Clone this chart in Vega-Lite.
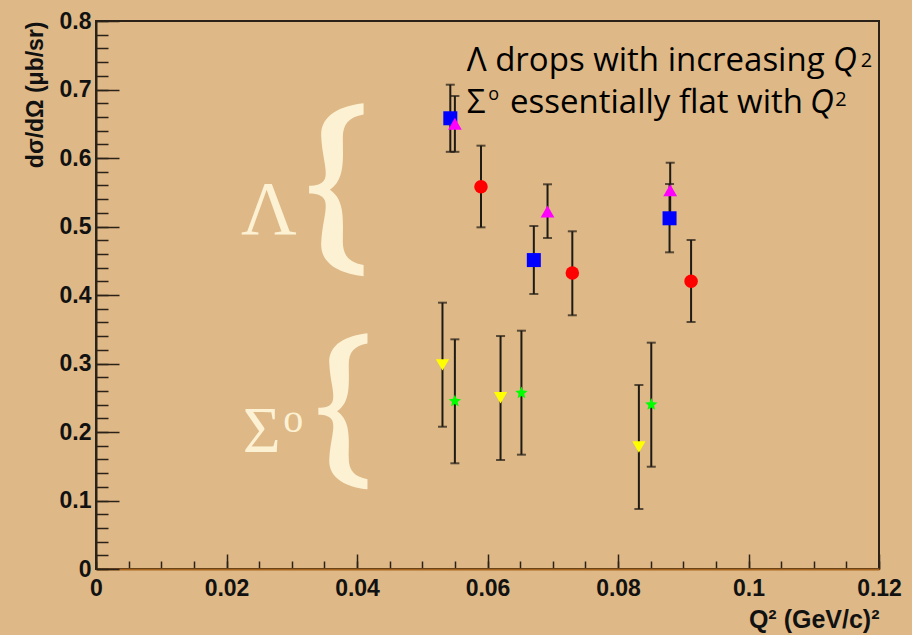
{
  "$schema": "https://vega.github.io/schema/vega-lite/v6.json",
  "width": 783,
  "height": 548,
  "autosize": "none",
  "padding": {"left": 96, "top": 21, "right": 33, "bottom": 66},
  "background": "#DEB887",
  "config": {"view": {"stroke": "#2a2218", "strokeWidth": 2}},
  "datasets": {
    "pts": [
      {"series": "blue", "x": 0.0543, "y": 0.658, "lo": 0.609, "hi": 0.707},
      {"series": "blue", "x": 0.0671, "y": 0.451, "lo": 0.4015, "hi": 0.5007},
      {"series": "blue", "x": 0.0879, "y": 0.512, "lo": 0.4623, "hi": 0.562},
      {"series": "magenta", "x": 0.0550, "y": 0.650, "lo": 0.609, "hi": 0.6905},
      {"series": "magenta", "x": 0.0692, "y": 0.522, "lo": 0.4832, "hi": 0.5616},
      {"series": "magenta", "x": 0.0880, "y": 0.553, "lo": 0.5134, "hi": 0.5931},
      {"series": "red", "x": 0.0590, "y": 0.558, "lo": 0.4988, "hi": 0.618},
      {"series": "red", "x": 0.0730, "y": 0.432, "lo": 0.3704, "hi": 0.493},
      {"series": "red", "x": 0.0912, "y": 0.420, "lo": 0.3606, "hi": 0.4803},
      {"series": "yellow", "x": 0.0531, "y": 0.298, "lo": 0.2077, "hi": 0.3888},
      {"series": "yellow", "x": 0.0620, "y": 0.250, "lo": 0.1591, "hi": 0.3401},
      {"series": "yellow", "x": 0.0832, "y": 0.178, "lo": 0.0876, "hi": 0.2686},
      {"series": "green", "x": 0.0550, "y": 0.245, "lo": 0.1543, "hi": 0.3353},
      {"series": "green", "x": 0.0652, "y": 0.257, "lo": 0.1669, "hi": 0.3479},
      {"series": "green", "x": 0.0851, "y": 0.240, "lo": 0.1493, "hi": 0.3304}
    ]
  },
  "resolve": {"axis": {"x": "independent", "y": "independent"}},
  "layer": [
    {
      "data": {"name": "pts"},
      "mark": {"type": "rule", "color": "#1e1a14", "strokeWidth": 2},
      "encoding": {
        "x": {"field": "x", "type": "quantitative",
          "scale": {"domain": [0, 0.12], "nice": false, "zero": false},
          "axis": {"orient": "bottom", "values": [0,0.005,0.01,0.015,0.02,0.025,0.03,0.035,0.04,0.045,0.05,0.055,0.06,0.065,0.07,0.075,0.08,0.085,0.09,0.095,0.1,0.105,0.11,0.115,0.12],
            "tickSize": -8, "tickWidth": 1.5, "tickColor": "#2a2218", "labels": false, "domain": false, "grid": false, "title": null}},
        "y": {"field": "lo", "type": "quantitative",
          "scale": {"domain": [0, 0.8], "nice": false, "zero": false},
          "axis": {"orient": "left", "values": [0,0.02,0.04,0.06,0.08,0.1,0.12,0.14,0.16,0.18,0.2,0.22,0.24,0.26,0.28,0.3,0.32,0.34,0.36,0.38,0.4,0.42,0.44,0.46,0.48,0.5,0.52,0.54,0.56,0.58,0.6,0.62,0.64,0.66,0.68,0.7,0.72,0.74,0.76,0.78,0.8],
            "tickSize": -12, "tickWidth": 1.5, "tickColor": "#2a2218", "labels": false, "domain": false, "grid": false, "title": null}},
        "y2": {"field": "hi"}
      }
    },
    {
      "data": {"name": "pts"},
      "mark": {"type": "tick", "orient": "horizontal", "color": "#1e1a14", "size": 9, "thickness": 2},
      "encoding": {
        "x": {"field": "x", "type": "quantitative", "axis": null},
        "y": {"field": "lo", "type": "quantitative", "axis": null}
      }
    },
    {
      "data": {"name": "pts"},
      "mark": {"type": "tick", "orient": "horizontal", "color": "#1e1a14", "size": 9, "thickness": 2},
      "encoding": {
        "x": {"field": "x", "type": "quantitative", "axis": null},
        "y": {"field": "hi", "type": "quantitative", "axis": null}
      }
    },
    {
      "data": {"name": "pts"},
      "mark": {"type": "point", "filled": true, "opacity": 1, "strokeWidth": 0},
      "encoding": {
        "x": {"field": "x", "type": "quantitative",
          "axis": {"orient": "bottom", "values": [0,0.02,0.04,0.06,0.08,0.1,0.12], "format": ".2~f",
            "tickSize": -15, "tickWidth": 1.5, "tickColor": "#2a2218", "labelPadding": 23,
            "labelFont": "Liberation Sans", "labelFontWeight": "bold", "labelFontSize": 23, "labelColor": "#111111",
            "labelOverlap": false, "labelBound": false, "labelFlush": false,
            "domainColor": "#A8641C", "domainWidth": 2, "grid": false,
            "title": "Q² (GeV/c)²", "titleFont": "Liberation Sans", "titleFontWeight": "bold", "titleFontSize": 25,
            "titleColor": "#111111", "titleAnchor": "end", "titlePadding": 7}},
        "y": {"field": "y", "type": "quantitative",
          "axis": {"orient": "left", "values": [0,0.1,0.2,0.3,0.4,0.5,0.6,0.7,0.8], "format": ".1~f",
            "tickSize": -23, "tickWidth": 1.5, "tickColor": "#2a2218", "labelPadding": 28,
            "labelFont": "Liberation Sans", "labelFontWeight": "bold", "labelFontSize": 23, "labelColor": "#111111",
            "labelOverlap": false, "labelBound": false, "labelFlush": false,
            "domainColor": "#2a2218", "domainWidth": 2, "grid": false,
            "title": "dσ/dΩ     (μb/sr)", "titleFont": "Liberation Sans", "titleFontWeight": "bold", "titleFontSize": 23,
            "titleColor": "#111111", "titleAnchor": "end", "titlePadding": 12}},
        "color": {"field": "series", "type": "nominal", "legend": null,
          "scale": {"domain": ["blue", "magenta", "red", "yellow", "green"], "range": ["#0000FF", "#FF00FF", "#FF0000", "#FFFF00", "#00FF00"]}},
        "shape": {"field": "series", "type": "nominal", "legend": null,
          "scale": {"domain": ["blue", "magenta", "red", "yellow", "green"], "range": ["square", "triangle-up", "circle", "triangle-down", "M0,-1L0.2645,-0.364L0.951,-0.309L0.428,0.139L0.588,0.809L0,0.45L-0.588,0.809L-0.428,0.139L-0.951,-0.309L-0.2645,-0.364Z"]}},
        "size": {"field": "series", "type": "nominal", "legend": null,
          "scale": {"domain": ["blue", "magenta", "red", "yellow", "green"], "range": [196, 169, 177, 205, 151]}}
      }
    },
    {
      "data": {"values": [
        {"t": "Λ drops with increasing", "x": 0.05681, "y": 0.7274},
        {"t": "Σ", "x": 0.05681, "y": 0.6653},
        {"t": "essentially flat with", "x": 0.06345, "y": 0.6653}
      ]},
      "mark": {"type": "text", "font": "Open Sans", "fontSize": 33, "color": "#000000", "align": "left", "baseline": "alphabetic"},
      "encoding": {
        "x": {"field": "x", "type": "quantitative", "axis": null},
        "y": {"field": "y", "type": "quantitative", "axis": null},
        "text": {"field": "t"}
      }
    },
    {
      "data": {"values": [
        {"t": "Q", "x": 0.11295, "y": 0.7274},
        {"t": "Q", "x": 0.10943, "y": 0.6653}
      ]},
      "mark": {"type": "text", "font": "Open Sans", "fontSize": 33, "fontStyle": "italic", "color": "#000000", "align": "left", "baseline": "alphabetic"},
      "encoding": {
        "x": {"field": "x", "type": "quantitative", "axis": null},
        "y": {"field": "y", "type": "quantitative", "axis": null},
        "text": {"field": "t"}
      }
    },
    {
      "data": {"values": [
        {"t": "2", "x": 0.1172, "y": 0.7333},
        {"t": "2", "x": 0.1133, "y": 0.6759}
      ]},
      "mark": {"type": "text", "font": "Open Sans", "fontSize": 20, "color": "#000000", "align": "left", "baseline": "alphabetic"},
      "encoding": {
        "x": {"field": "x", "type": "quantitative", "axis": null},
        "y": {"field": "y", "type": "quantitative", "axis": null},
        "text": {"field": "t"}
      }
    },
    {
      "data": {"values": [
        {"t": "o", "x": 0.0601, "y": 0.6847}
      ]},
      "mark": {"type": "text", "font": "Open Sans", "fontSize": 18, "color": "#000000", "align": "left", "baseline": "alphabetic"},
      "encoding": {
        "x": {"field": "x", "type": "quantitative", "axis": null},
        "y": {"field": "y", "type": "quantitative", "axis": null},
        "text": {"field": "t"}
      }
    },
    {
      "data": {"values": [
        {"t": "Λ", "x": 0.0265, "y": 0.489}
      ]},
      "mark": {"type": "text", "font": "Liberation Serif", "fontSize": 77, "color": "#FCF1D3", "align": "center", "baseline": "alphabetic"},
      "encoding": {
        "x": {"field": "x", "type": "quantitative", "axis": null},
        "y": {"field": "y", "type": "quantitative", "axis": null},
        "text": {"field": "t"}
      }
    },
    {
      "data": {"values": [
        {"t": "Σ", "x": 0.0254, "y": 0.1712}
      ]},
      "mark": {"type": "text", "font": "Liberation Serif", "fontSize": 65, "color": "#FCF1D3", "align": "center", "baseline": "alphabetic"},
      "encoding": {
        "x": {"field": "x", "type": "quantitative", "axis": null},
        "y": {"field": "y", "type": "quantitative", "axis": null},
        "text": {"field": "t"}
      }
    },
    {
      "data": {"values": [
        {"t": "o", "x": 0.0287, "y": 0.2004}
      ]},
      "mark": {"type": "text", "font": "Liberation Serif", "fontSize": 40, "color": "#FCF1D3", "align": "left", "baseline": "alphabetic"},
      "encoding": {
        "x": {"field": "x", "type": "quantitative", "axis": null},
        "y": {"field": "y", "type": "quantitative", "axis": null},
        "text": {"field": "t"}
      }
    },
    {
      "data": {"values": [
        {"brace": "Lambda", "x": 0.0369, "y": 0.5537}
      ]},
      "mark": {"type": "point", "filled": true, "opacity": 1, "color": "#FCF1D3", "strokeWidth": 0, "size": 29929,
        "shape": "M0.31,-1C0.04,-0.97,-0.19,-0.86,-0.18,-0.62C-0.17,-0.38,-0.1,-0.22,-0.14,-0.12C-0.17,-0.06,-0.24,-0.045,-0.32,-0.045L-0.32,0.045C-0.24,0.045,-0.17,0.06,-0.14,0.12C-0.1,0.22,-0.17,0.38,-0.18,0.62C-0.19,0.86,0.04,0.97,0.31,1L0.31,0.87C0.14,0.84,0.07,0.76,0.07,0.6C0.07,0.36,0.1,0.12,-0.08,0C0.1,-0.12,0.07,-0.36,0.07,-0.6C0.07,-0.76,0.14,-0.84,0.31,-0.87Z"},
      "encoding": {
        "x": {"field": "x", "type": "quantitative", "axis": null},
        "y": {"field": "y", "type": "quantitative", "axis": null}
      }
    },
    {
      "data": {"values": [
        {"brace": "Sigma", "x": 0.0379, "y": 0.2302}
      ]},
      "mark": {"type": "point", "filled": true, "opacity": 1, "color": "#FCF1D3", "strokeWidth": 0, "size": 24336,
        "shape": "M0.31,-1C0.04,-0.97,-0.19,-0.86,-0.18,-0.62C-0.17,-0.38,-0.1,-0.22,-0.14,-0.12C-0.17,-0.06,-0.24,-0.045,-0.32,-0.045L-0.32,0.045C-0.24,0.045,-0.17,0.06,-0.14,0.12C-0.1,0.22,-0.17,0.38,-0.18,0.62C-0.19,0.86,0.04,0.97,0.31,1L0.31,0.87C0.14,0.84,0.07,0.76,0.07,0.6C0.07,0.36,0.1,0.12,-0.08,0C0.1,-0.12,0.07,-0.36,0.07,-0.6C0.07,-0.76,0.14,-0.84,0.31,-0.87Z"},
      "encoding": {
        "x": {"field": "x", "type": "quantitative", "axis": null},
        "y": {"field": "y", "type": "quantitative", "axis": null}
      }
    }
  ]
}
